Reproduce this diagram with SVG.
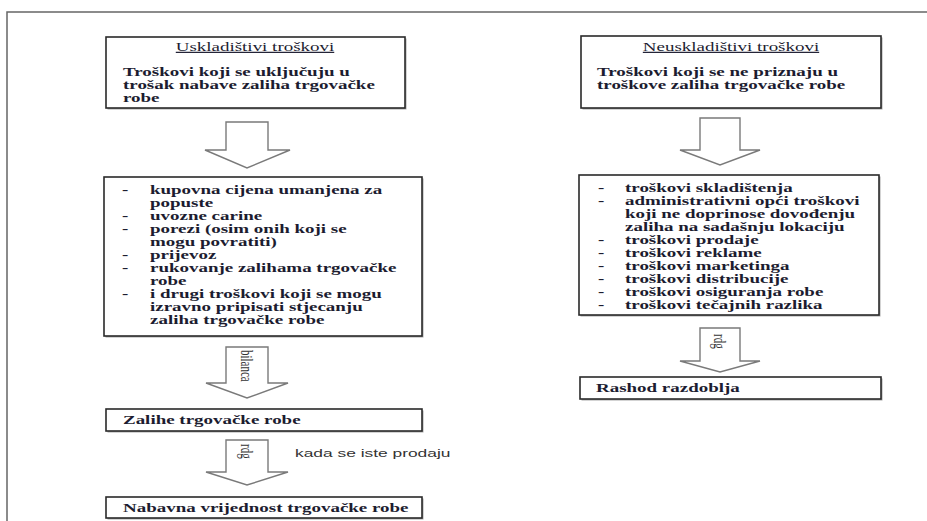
<svg xmlns="http://www.w3.org/2000/svg" width="927" height="521" viewBox="0 0 927 521">
<style>
.bg{fill:#fff}
.frame{fill:none;stroke:#666;stroke-width:1.5}
.box{fill:#fff;stroke:#2a2a2a;stroke-width:1.6}
.shadow{fill:#a8a8a8}
.arrow{fill:#fff;stroke:#7a7a7a;stroke-width:1.4;stroke-linejoin:miter}
.t{font-family:"Liberation Serif","Times New Roman",serif;font-size:12px;font-weight:bold;fill:#1c1c30}
.title{font-family:"Liberation Serif","Times New Roman",serif;font-size:12px;font-weight:normal;fill:#1c1c30;text-decoration:underline}
.rot{font-family:"Liberation Serif","Times New Roman",serif;font-size:11px;fill:#333}
.note{font-family:"Liberation Sans",Arial,sans-serif;font-size:11px;fill:#333}
</style>
<rect class="bg" x="0" y="0" width="927" height="521"/>
<path class="frame" d="M7,521 V12 H927"/>

<g id="connectors">
  <path class="arrow" d="M226,122 H268 V150 H290 L247,168 L205,150 H226 Z"/>
  <path class="arrow" d="M226,347 H268 V383 H288 L247,398 L206,383 H226 Z"/>
  <path class="arrow" d="M226,440 H268 V472 H288 L247,485 L206,472 H226 Z"/>
  <path class="arrow" d="M700,118 H740 V150 H760 L720,165 L680,150 H700 Z"/>
  <path class="arrow" d="M700,328 H740 V361 H760 L720,372 L680,361 H700 Z"/>
  <text class="rot" transform="matrix(0 1 -1.58 0 241 350)">bilanca</text>
  <text class="rot" transform="matrix(0 1 -1.58 0 241 444)">rdg</text>
  <text class="rot" transform="matrix(0 1 -1.58 0 714 334)">rdg</text>
  <text class="note" transform="matrix(1.58 0 0 1 295 457)">kada se iste prodaju</text>
</g>

<g id="uskladistivi">
  <rect class="shadow" x="107.5" y="38.5" width="299" height="71"/>
  <rect class="box" x="106" y="37" width="299" height="71"/>
  <text class="title" text-anchor="middle" transform="matrix(1.58 0 0 1 255 51)">Uskladištivi troškovi</text>
  <text class="t" transform="matrix(1.58 0 0 1 123 76)">Troškovi koji se uključuju u</text>
  <text class="t" transform="matrix(1.58 0 0 1 123 89)">trošak nabave zaliha trgovačke</text>
  <text class="t" transform="matrix(1.58 0 0 1 123 102)">robe</text>
</g>

<g id="neuskladistivi">
  <rect class="shadow" x="582.5" y="37.5" width="300" height="72"/>
  <rect class="box" x="581" y="36" width="300" height="72"/>
  <text class="title" text-anchor="middle" transform="matrix(1.58 0 0 1 731 51)">Neuskladištivi troškovi</text>
  <text class="t" transform="matrix(1.58 0 0 1 597 76)">Troškovi koji se ne priznaju u</text>
  <text class="t" transform="matrix(1.58 0 0 1 597 89)">troškove zaliha trgovačke robe</text>
</g>

<g id="lista-uskladistivi">
  <rect class="shadow" x="105.5" y="178.5" width="318" height="159"/>
  <rect class="box" x="104" y="177" width="318" height="159"/>
  <text class="t" transform="matrix(1.58 0 0 1 122 194)">-</text>
  <text class="t" transform="matrix(1.58 0 0 1 150 194)">kupovna cijena umanjena za</text>
  <text class="t" transform="matrix(1.58 0 0 1 150 207)">popuste</text>
  <text class="t" transform="matrix(1.58 0 0 1 122 220)">-</text>
  <text class="t" transform="matrix(1.58 0 0 1 150 220)">uvozne carine</text>
  <text class="t" transform="matrix(1.58 0 0 1 122 233)">-</text>
  <text class="t" transform="matrix(1.58 0 0 1 150 233)">porezi (osim onih koji se</text>
  <text class="t" transform="matrix(1.58 0 0 1 150 246)">mogu povratiti)</text>
  <text class="t" transform="matrix(1.58 0 0 1 122 259)">-</text>
  <text class="t" transform="matrix(1.58 0 0 1 150 259)">prijevoz</text>
  <text class="t" transform="matrix(1.58 0 0 1 122 272)">-</text>
  <text class="t" transform="matrix(1.58 0 0 1 150 272)">rukovanje zalihama trgovačke</text>
  <text class="t" transform="matrix(1.58 0 0 1 150 285)">robe</text>
  <text class="t" transform="matrix(1.58 0 0 1 122 298)">-</text>
  <text class="t" transform="matrix(1.58 0 0 1 150 298)">i drugi troškovi koji se mogu</text>
  <text class="t" transform="matrix(1.58 0 0 1 150 311)">izravno pripisati stjecanju</text>
  <text class="t" transform="matrix(1.58 0 0 1 150 324)">zaliha trgovačke robe</text>
</g>

<g id="lista-neuskladistivi">
  <rect class="shadow" x="580.5" y="176.5" width="300" height="140"/>
  <rect class="box" x="579" y="175" width="300" height="140"/>
  <text class="t" transform="matrix(1.58 0 0 1 598 192)">-</text>
  <text class="t" transform="matrix(1.58 0 0 1 625 192)">troškovi skladištenja</text>
  <text class="t" transform="matrix(1.58 0 0 1 598 205)">-</text>
  <text class="t" transform="matrix(1.58 0 0 1 625 205)">administrativni opći troškovi</text>
  <text class="t" transform="matrix(1.58 0 0 1 625 218)">koji ne doprinose dovođenju</text>
  <text class="t" transform="matrix(1.58 0 0 1 625 231)">zaliha na sadašnju lokaciju</text>
  <text class="t" transform="matrix(1.58 0 0 1 598 244)">-</text>
  <text class="t" transform="matrix(1.58 0 0 1 625 244)">troškovi prodaje</text>
  <text class="t" transform="matrix(1.58 0 0 1 598 257)">-</text>
  <text class="t" transform="matrix(1.58 0 0 1 625 257)">troškovi reklame</text>
  <text class="t" transform="matrix(1.58 0 0 1 598 270)">-</text>
  <text class="t" transform="matrix(1.58 0 0 1 625 270)">troškovi marketinga</text>
  <text class="t" transform="matrix(1.58 0 0 1 598 283)">-</text>
  <text class="t" transform="matrix(1.58 0 0 1 625 283)">troškovi distribucije</text>
  <text class="t" transform="matrix(1.58 0 0 1 598 296)">-</text>
  <text class="t" transform="matrix(1.58 0 0 1 625 296)">troškovi osiguranja robe</text>
  <text class="t" transform="matrix(1.58 0 0 1 598 309)">-</text>
  <text class="t" transform="matrix(1.58 0 0 1 625 309)">troškovi tečajnih razlika</text>
</g>

<g id="zalihe">
  <rect class="shadow" x="107.5" y="410.5" width="316" height="22"/>
  <rect class="box" x="106" y="409" width="316" height="22"/>
  <text class="t" transform="matrix(1.58 0 0 1 123 424)">Zalihe trgovačke robe</text>
</g>

<g id="nabavna">
  <rect class="shadow" x="107.5" y="498.5" width="316" height="21"/>
  <rect class="box" x="106" y="497" width="316" height="21"/>
  <text class="t" transform="matrix(1.58 0 0 1 123 512)">Nabavna vrijednost trgovačke robe</text>
</g>

<g id="rashod">
  <rect class="shadow" x="581.5" y="378.5" width="301" height="22"/>
  <rect class="box" x="580" y="377" width="301" height="22"/>
  <text class="t" transform="matrix(1.58 0 0 1 596 392)">Rashod razdoblja</text>
</g>
</svg>
